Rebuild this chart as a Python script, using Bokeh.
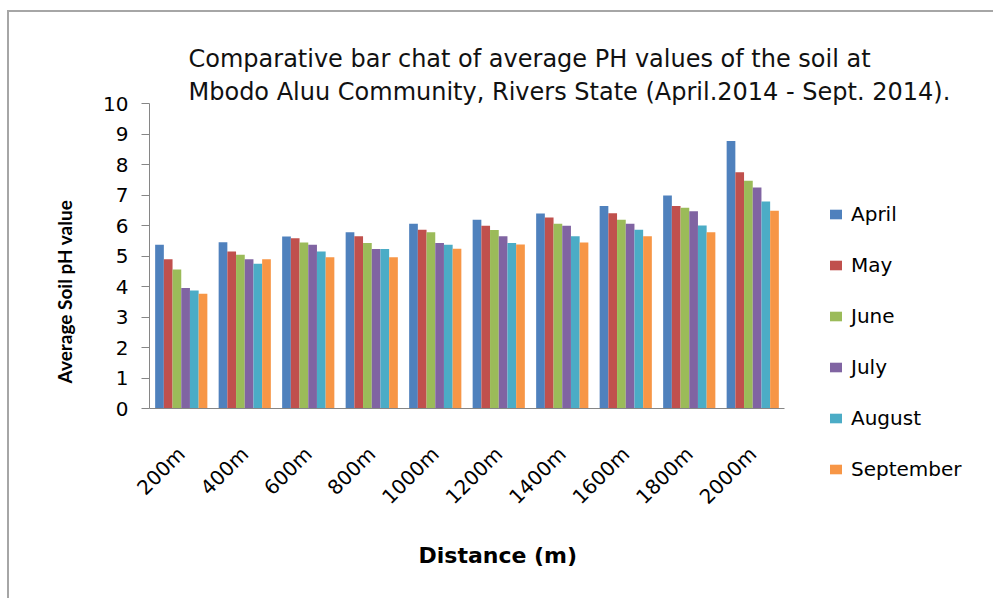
import math
from bokeh.plotting import figure
from bokeh.models import ColumnDataSource, FactorRange, Range1d, FixedTicker, Title
from bokeh.transform import dodge
from bokeh.embed import file_html
from bokeh.resources import INLINE

distances = ["200m", "400m", "600m", "800m", "1000m", "1200m", "1400m", "1600m", "1800m", "2000m"]
months = ["April", "May", "June", "July", "August", "September"]
april = [5.37, 5.45, 5.64, 5.78, 6.06, 6.19, 6.39, 6.64, 6.98, 8.77]
may = [4.89, 5.15, 5.58, 5.65, 5.86, 5.99, 6.26, 6.40, 6.64, 7.75]
june = [4.56, 5.04, 5.44, 5.43, 5.78, 5.85, 6.06, 6.19, 6.58, 7.47]
july = [3.95, 4.89, 5.37, 5.23, 5.43, 5.65, 5.99, 6.06, 6.47, 7.25]
august = [3.87, 4.75, 5.15, 5.23, 5.37, 5.43, 5.65, 5.86, 6.00, 6.79]
september = [3.76, 4.89, 4.96, 4.96, 5.24, 5.38, 5.44, 5.65, 5.78, 6.48]
y_ticks = list(range(0, 11))
colors = ["#4F81BD", "#C0504D", "#9BBB59", "#8064A2", "#4BACC6", "#F79646"]

title_1 = "Comparative bar chat of average PH values of the soil at"
title_2 = "Mbodo Aluu Community, Rivers State (April.2014 - Sept. 2014)."
x_title = "Distance (m)"
y_title = "Average Soil   pH value"

source = ColumnDataSource(dict(dist=distances, April=april, May=may, June=june,
                               July=july, August=august, September=september))

p = figure(frame_width=635, frame_height=305, x_range=FactorRange(*distances), y_range=Range1d(0, 10),
           output_backend="svg", toolbar_location=None,
           min_border_left=140, min_border_top=91, min_border_bottom=190, min_border_right=200)
p.styles = {"border-top": "2px solid #a6a6a6", "border-left": "2px solid #a6a6a6",
            "margin-left": "7px", "margin-top": "10px"}
p.outline_line_color = None
p.xgrid.visible = False
p.ygrid.visible = False

bw = 0.137
for i, (m, c) in enumerate(zip(months, colors)):
    off = (i - 2.5) * bw
    p.vbar(x=dodge("dist", off, range=p.x_range), top=m, width=bw, source=source,
           fill_color=c, line_color=None, legend_label=m)

# axes
p.yaxis.ticker = FixedTicker(ticks=y_ticks)
p.yaxis.axis_line_color = "#868686"
p.yaxis.major_tick_line_color = "#868686"
p.yaxis.major_tick_out = 8
p.yaxis.major_tick_in = 0
p.yaxis.minor_tick_line_color = None
p.yaxis.major_label_text_font = "DejaVu Sans"
p.yaxis.major_label_text_font_size = "20px"
p.yaxis.major_label_text_color = "#000000"
p.yaxis.major_label_standoff = 13

p.xaxis.axis_line_color = "#868686"
p.xaxis.major_tick_line_color = None
p.xaxis.minor_tick_line_color = None
p.xaxis.major_label_orientation = math.pi / 4
p.xaxis.major_label_text_font = "DejaVu Sans"
p.xaxis.major_label_text_font_size = "20px"
p.xaxis.major_label_text_color = "#000000"
p.xaxis.major_label_standoff = 36

# two-line chart title (line 2 closest to the plot)
p.add_layout(Title(text=title_2, align="left", offset=39, standoff=-4,
                   text_font="DejaVu Sans", text_font_size="24px",
                   text_font_style="normal", text_color="#111111"), "above")
p.add_layout(Title(text=title_1, align="left", offset=39, standoff=10,
                   text_font="DejaVu Sans", text_font_size="24px",
                   text_font_style="normal", text_color="#111111"), "above")

# axis titles
p.add_layout(Title(text=y_title, align="left", offset=25, standoff=50,
                   text_font="Lato", text_font_style="bold", text_font_size="19px",
                   text_color="#000000"), "left")
p.add_layout(Title(text=x_title, align="left", offset=269, standoff=40,
                   text_font="DejaVu Sans", text_font_style="bold", text_font_size="22px",
                   text_color="#000000"), "below")

lg = p.legend[0]
p.center.remove(lg)
p.add_layout(lg, "right")
lg.location = (44, -73)
lg.border_line_color = None
lg.background_fill_alpha = 0
lg.margin = 0
lg.padding = 0
lg.glyph_width = 15
lg.glyph_height = 12
lg.label_height = 24
lg.spacing = 27
lg.label_standoff = 8
lg.label_text_font = "DejaVu Sans"
lg.label_text_font_size = "20px"
lg.label_text_color = "#000000"

open("out.html", "w").write(file_html(p, INLINE))
